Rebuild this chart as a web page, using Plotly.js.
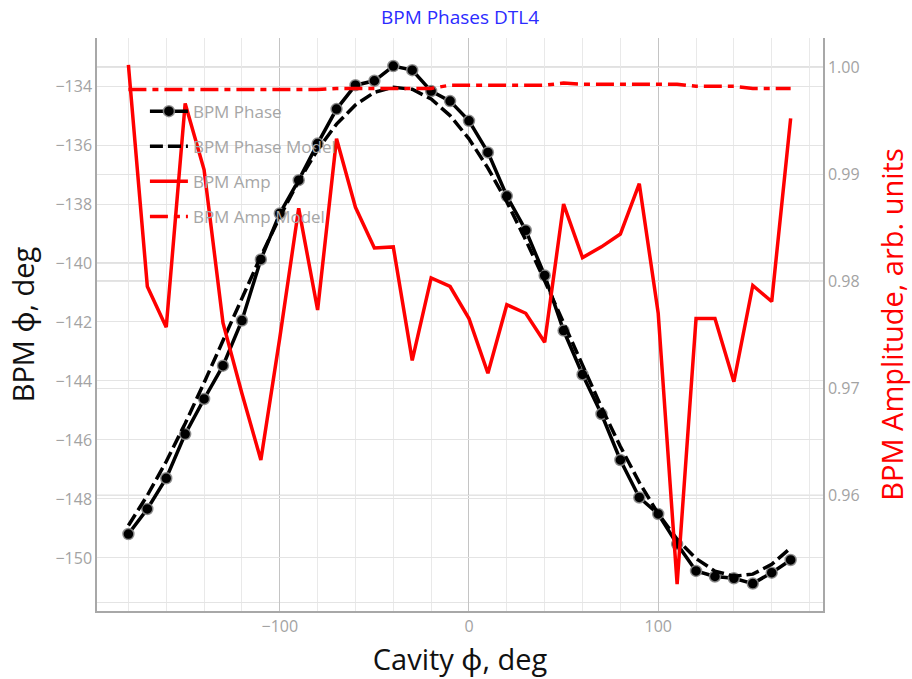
<!DOCTYPE html>
<html>
<head>
<meta charset="utf-8">
<script src="https://cdn.plot.ly/plotly-3.0.1.min.js"></script>
<style>html,body{margin:0;padding:0;background:#fff;}#chart{width:912px;height:679px;}</style>
</head>
<body>
<div id="chart"></div>
<script>
// Cavity phase (deg)
var cavityPhase = [-180,-170,-160,-150,-140,-130,-120,-110,-100,-90,-80,-70,-60,-50,-40,-30,-20,-10,
                   0,10,20,30,40,50,60,70,80,90,100,110,120,130,140,150,160,170];
// Measured BPM phase (deg)
var bpmPhase = [-149.19,-148.34,-147.30,-145.80,-144.61,-143.48,-141.95,-139.88,-138.32,-137.19,-135.95,-134.78,
                -133.97,-133.82,-133.32,-133.46,-134.17,-134.51,-135.18,-136.25,-137.73,-138.89,-140.42,-142.29,
                -143.78,-145.12,-146.68,-147.95,-148.51,-149.53,-150.44,-150.63,-150.69,-150.87,-150.50,-150.07];
// Model BPM phase (deg)
var bpmPhaseModel = [-148.90,-147.88,-146.73,-145.44,-144.06,-142.62,-141.18,-139.77,-138.44,-137.22,-136.16,-135.29,
                     -134.64,-134.21,-134.04,-134.11,-134.44,-135.00,-135.79,-136.78,-137.93,-139.22,-140.60,-142.04,
                     -143.48,-144.89,-146.22,-147.44,-148.50,-149.37,-150.02,-150.45,-150.62,-150.55,-150.22,-149.66];
// Measured BPM amplitude (arb. units)
var bpmAmp = [1.0002,0.9795,0.9757,0.9966,0.9904,0.9761,0.9695,0.9633,0.9747,0.9868,0.9773,0.9933,
              0.9869,0.9831,0.9832,0.9726,0.9803,0.9795,0.9765,0.9714,0.9778,0.9770,0.9743,0.9872,
              0.9822,0.9832,0.9844,0.9891,0.9770,0.9517,0.9765,0.9765,0.9706,0.9796,0.9781,0.9952];
// Model BPM amplitude (arb. units)
var bpmAmpModel = [0.9979,0.9979,0.9979,0.9979,0.9979,0.9979,0.9979,0.9979,0.9979,0.9979,0.9979,0.9980,
                   0.9980,0.9980,0.9980,0.9980,0.9980,0.9983,0.9983,0.9983,0.9983,0.9983,0.9983,0.9985,
                   0.9984,0.9984,0.9984,0.9984,0.9984,0.9984,0.9982,0.9982,0.9982,0.9980,0.9980,0.9980];
// Right-axis tick labels
var ampTicks = [0.96, 0.97, 0.98, 0.99, 1.00];

var FONT = '"Open Sans", "Noto Sans", sans-serif';
var tickGray = '#a3a3a3';

var traces = [
  {x: cavityPhase, y: bpmPhase, name: 'BPM Phase', type: 'scatter', mode: 'lines+markers', legendgroup: 'g1',
   line: {color: 'black', width: 3.5},
   marker: {color: 'black', size: 11, line: {color: 'rgba(140,140,140,0.9)', width: 1.5}}},
  {x: cavityPhase, y: bpmPhaseModel, name: 'BPM Phase Model', type: 'scatter', mode: 'lines', legendgroup: 'g2',
   line: {color: 'black', width: 3.5, dash: '13px,5px'}},
  {x: cavityPhase, y: bpmAmp, name: 'BPM Amp', type: 'scatter', mode: 'lines', yaxis: 'y2', legendgroup: 'g3',
   line: {color: 'red', width: 3.5}},
  {x: cavityPhase, y: bpmAmpModel, name: 'BPM Amp Model', type: 'scatter', mode: 'lines', yaxis: 'y2', legendgroup: 'g4',
   line: {color: 'red', width: 3.5, dash: '18px,6px,6px,6px'}}
];

var darkGrid = '#c4c4c4';
function hline(yref, v) {
  return {type: 'line', xref: 'paper', x0: 0, x1: 1, yref: yref, y0: v, y1: v, layer: 'below',
          line: {color: darkGrid, width: 1.2}};
}

var layout = {
  width: 912, height: 679,
  margin: {l: 97, r: 89, t: 38, b: 68},
  paper_bgcolor: 'white', plot_bgcolor: 'white',
  font: {family: FONT, color: tickGray, size: 16},
  title: {text: 'BPM Phases DTL4', font: {family: FONT, size: 19, color: '#2b2bff'},
          x: 0.5, xref: 'paper', y: 0.975, yref: 'container', yanchor: 'middle'},
  showlegend: true,
  legend: {x: 0.066, y: 0.903, xanchor: 'left', yanchor: 'top', bgcolor: 'rgba(0,0,0,0)', itemwidth: 38,
           font: {family: FONT, size: 17, color: '#a6a6a6'}, tracegroupgap: 10, traceorder: 'grouped'},
  xaxis: {
    title: {text: 'Cavity ϕ, deg', font: {family: FONT, size: 29, color: '#111'}, standoff: 14},
    range: [-196.6, 187.1], dtick: 100, tick0: 0, zeroline: false,
    showgrid: true, gridcolor: darkGrid, gridwidth: 1,
    minor: {dtick: 20, showgrid: true, gridcolor: '#e9e9e9', gridwidth: 1},
    showline: true, linecolor: '#a8a8a8', linewidth: 1.5,
    tickfont: {family: FONT, size: 16, color: tickGray}, ticks: ''
  },
  yaxis: {
    title: {text: 'BPM ϕ, deg', font: {family: FONT, size: 29, color: '#111'}, standoff: 12},
    range: [-151.80, -132.37], dtick: 2, tick0: -134, zeroline: false,
    showgrid: true, gridcolor: '#e4e4e4', gridwidth: 1,
    showline: true, linecolor: '#a8a8a8', linewidth: 1.5,
    tickfont: {family: FONT, size: 16, color: tickGray}, ticks: ''
  },
  yaxis2: {
    title: {text: 'BPM Amplitude, arb. units', font: {family: FONT, size: 29, color: 'red'}, standoff: 24},
    overlaying: 'y', side: 'right',
    range: [0.94919, 1.00271], tickmode: 'array', tickvals: ampTicks, tickformat: '.2f', zeroline: false,
    showgrid: true, gridcolor: '#e4e4e4', gridwidth: 1,
    minor: {dtick: 0.01, tick0: 0.95, showgrid: true, gridcolor: '#e4e4e4', gridwidth: 1},
    showline: true, linecolor: '#a8a8a8', linewidth: 1.5,
    tickfont: {family: FONT, size: 16, color: tickGray}, ticks: ''
  },
  shapes: [hline('y', -140), hline('y2', 1.00), hline('y2', 0.98), hline('y2', 0.96)]
};

Plotly.newPlot('chart', traces, layout, {displayModeBar: false, responsive: false});
</script>
</body>
</html>
